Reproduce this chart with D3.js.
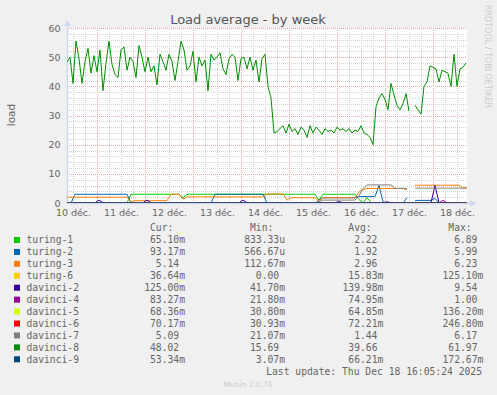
<!DOCTYPE html>
<html>
<head>
<meta charset="utf-8">
<script src="https://cdn.jsdelivr.net/npm/d3@7"></script>
<style>
  body { margin: 0; background: #f0f0f0; }
  svg { display: block; font-family: "DejaVu Sans", sans-serif; }
</style>
</head>
<body>
<svg id="chart" width="497" height="395"></svg>
<script>
'use strict';

// --- data ---------------------------------------------------------------
const seriesNames = ['turing-1', 'turing-2', 'turing-3', 'turing-6', 'davinci-2', 'davinci-4',
  'davinci-5', 'davinci-6', 'davinci-7', 'davinci-8', 'davinci-9'];
const seriesColors = ['#00cc00', '#0066b3', '#ff8000', '#ffcc00', '#330099', '#990099',
  '#ccff00', '#ff0000', '#808080', '#008f00', '#00487d'];
// sample spacing of each series, in hours
const seriesStepHours = [2, 2, 2, 8, 2, 2, 8, 8, 2, 1.5, 8];

const legendCur = ['65.10m', '93.17m', '5.14', '36.64m', '125.00m', '83.27m', '68.36m', '70.17m', '5.09', '48.02', '53.34m'];
const legendMin = ['833.33u', '566.67u', '112.67m', '0.00', '41.70m', '21.80m', '30.80m', '30.93m', '21.07m', '15.69', '3.07m'];
const legendAvg = ['2.22', '1.92', '2.96', '15.83m', '139.98m', '74.95m', '64.85m', '72.21m', '1.44', '39.66', '66.21m'];
const legendMax = ['6.89', '5.99', '6.23', '125.10m', '9.54', '1.00', '136.20m', '246.80m', '6.17', '61.97', '172.67m'];

const xTickLabels = ['10 déc.', '11 déc.', '12 déc.', '13 déc.', '14 déc.', '15 déc.', '16 déc.', '17 déc.', '18 déc.'];
const yTicks = [0, 10, 20, 30, 40, 50, 60];

const turing1 = [
  0, 0, 0, 0, 0, 0, 0, 0, 0, 0, 0, 0, 0, 0, 0, 0,
  3, 3, 3, 3, 3, 3, 3, 3, 3, 3, 3, 3, 3,
  1.8,
  3, 3, 3, 3, 3, 3, 3, 3, 3, 3, 3,
  3, 3, 3, 3, 3, 3, 3, 3, 3, 3, 3,
  3, 3, 3, 3, 3, 3, 3, 3, 3, 3, 3,
  1.0,
  3, 3, 3, 3, 3, 3, 3, 3, 3,
  1.2, 0.1, 1.8, 0.2,
  0, 0, 0, 0, 0, 0, 0, 0, 0,
  null,
  0, 0, 0, 0, 0, 0, 0, 0, 0, 0, 0, 0, 0, 0
];
const turing2 = [
  0, 0,
  3, 3, 3, 3, 3, 3, 3, 3, 3, 3, 3, 3, 3, 3,
  0, 0, 0, 0, 0, 0, 0, 0, 0, 0, 0, 0, 0, 0, 0, 0, 0, 0, 0, 0, 0,
  3, 3, 3, 3, 3, 3, 3, 3, 3, 3, 3, 3, 3,
  0, 0, 0, 0, 0, 0, 0, 0, 0, 0, 0, 0, 0,
  1.0,
  1.8, 1.8, 1.8, 1.8, 1.8, 1.8, 1.8, 1.8, 1.8,
  2.2, 2.2, 2.2, 2.2, 2.2,
  6.0, 0.4,
  0, 0, 0, 0, 0,
  1.8,
  null,
  0.9, 0.9, 0.9, 0.9, 0.9,
  1.6,
  0, 0, 0, 0, 0, 0, 0, 0
];
const turing3 = [
  2, 2, 2, 2, 2, 2, 2, 2, 2, 2, 2, 2, 2, 2, 2, 2,
  0.4,
  0.8, 0.8, 0.8, 0.8, 0.8, 0.8, 0.8, 0.8, 0.8,
  3, 3, 3,
  1.3,
  2.1, 2.1, 2.1, 2.1, 2.1, 2.1, 2.1, 2.1, 2.1, 2.1,
  2.1, 2.1, 2.1, 2.1, 2.1, 2.1, 2.1, 2.1, 2.1, 2.1,
  3.1, 3.1, 3.1, 3.1, 3.1,
  1.0,
  1.8, 1.8, 1.8, 1.8, 1.8, 1.8, 1.8,
  0.6,
  1.8, 1.8, 1.8, 1.8, 1.8, 1.8, 1.8, 1.8, 1.8,
  3.8, 4.6,
  5, 5, 5, 5, 5, 5, 5, 5, 5, 5,
  4.5,
  null,
  6.1, 6.1, 6.1, 6.1, 6.1, 6.1, 6.1, 6.1, 6.1, 6.1, 6.1, 6.1,
  5.2, 5.1
];
const turing6 = [0.01, 0.02, 0.01, 0.03, 0.01, 0.02, 0.01, 0.02, 0.01, 0.01, 0.02, 0.03, 0.01,
  0.02, 0.01, 0.02, 0.01, 0.02, 0.01, 0.02, 0.01, 0.02, 0.03, 0.02, 0.04, 0.04];
const davinci2 = [
  0.1, 0.1, 0.1, 0.1, 0.1, 0.1, 0.1, 0.1,
  1.0,
  0.1, 0.1, 0.1, 0.1, 0.1, 0.1, 0.1, 0.1, 0.1, 0.1, 0.1,
  1.0,
  0.1, 0.1, 0.1, 0.1, 0.1, 0.1, 0.1, 0.1, 0.1, 0.1, 0.1, 0.1,
  0.1, 0.1, 0.1, 0.1, 0.1, 0.1, 0.1, 0.1, 0.1, 0.1, 0.1,
  1.0,
  0.1, 0.1, 0.1, 0.1, 0.1, 0.1, 0.1, 0.1, 0.1, 0.1, 0.1, 0.1,
  0.1, 0.1, 0.1, 0.1, 0.1, 0.1, 0.1, 0.1, 0.1, 0.1, 0.1,
  0.5,
  0.1, 0.1, 0.1, 0.1, 0.1, 0.1, 0.1, 0.1, 0.1, 0.1, 0.1,
  0.4,
  0.1, 0.1, 0.1, 0.1, 0.1,
  null,
  0.1, 0.1, 0.1, 0.1, 0.1,
  6.0,
  0.1, 0.1, 0.1, 0.1, 0.1, 0.1, 0.1, 0.1
];
const davinci4 = [
  0.07, 0.07, 0.07, 0.07, 0.07, 0.07, 0.07, 0.07, 0.07, 0.07,
  0.07, 0.07, 0.07, 0.07, 0.07, 0.07, 0.07, 0.07, 0.07, 0.07,
  0.07, 0.07, 0.07, 0.07, 0.07, 0.07, 0.07, 0.07, 0.07, 0.07,
  0.07, 0.07, 0.07, 0.07, 0.07, 0.07, 0.07, 0.07, 0.07, 0.07,
  0.07, 0.07, 0.07, 0.07, 0.07, 0.07, 0.07, 0.07, 0.07, 0.07,
  0.07, 0.07, 0.07, 0.07, 0.07, 0.07, 0.07, 0.07, 0.07, 0.07,
  0.07, 0.07, 0.07, 0.07, 0.07, 0.07, 0.07, 0.07, 0.07, 0.07,
  0.07, 0.07, 0.07, 0.07, 0.07, 0.07, 0.07, 0.07, 0.07, 0.07,
  0.07, 0.07, 0.07, 0.07, 0.07, 0.07,
  null,
  0.07, 0.07, 0.07, 0.07, 0.07, 0.07, 0.07,
  0.9,
  0.07, 0.07, 0.07, 0.07, 0.07, 0.07
];
const davinci5 = [0.06, 0.07, 0.06, 0.05, 0.07, 0.06, 0.06, 0.07, 0.06, 0.05, 0.06, 0.07, 0.06,
  0.06, 0.07, 0.06, 0.05, 0.06, 0.07, 0.06, 0.07, 0.06, 0.07, 0.06, 0.07, 0.07];
const davinci6 = [0.07, 0.08, 0.07, 0.07, 0.06, 0.08, 0.07, 0.07, 0.08, 0.07, 0.06, 0.07, 0.08,
  0.07, 0.07, 0.08, 0.07, 0.06, 0.07, 0.08, 0.07, 0.07, 0.08, 0.07, 0.07, 0.07];
const davinci7 = [
  0, 0, 0, 0, 0, 0, 0, 0, 0, 0, 0, 0, 0, 0, 0, 0, 0, 0, 0, 0, 0,
  0, 0, 0, 0, 0, 0, 0, 0, 0, 0, 0, 0, 0, 0, 0, 0, 0, 0, 0, 0, 0,
  0, 0, 0, 0, 0, 0, 0, 0, 0, 0, 0, 0, 0, 0, 0, 0, 0, 0, 0, 0, 0,
  0.4,
  1, 1, 1, 1, 1, 1, 1, 1, 1,
  2.5, 5.0,
  6.2, 6.2, 6.2, 6.2, 6.2, 6.2, 6.2,
  5, 5, 5, 5,
  null,
  5.1, 5.1, 5.1, 5.1, 5.1, 5.1, 5.1, 5.1, 5.1, 5.1, 5.1, 5.1, 5.1, 5.1
];
const davinci8 = [
  48.3, 50, 41, 55.5, 49.5, 41, 48.5, 53, 44.5, 50.5, 45, 52.5, 38.5, 48, 55.5, 47.5, 44, 43,
  52.5, 53.5, 45.5, 50, 48.5, 43, 54, 50, 45, 50, 45, 47, 40.5, 51, 48.5, 45.5, 51,
  48.5, 42, 48.5, 55.5, 52.5, 45.5, 47, 52, 41.5, 50, 47, 49, 38.5, 51, 49, 50, 51.5, 46,
  44, 49.5, 51, 50, 42, 49.5, 50, 46, 50, 45.5, 49, 41.5, 49.5, 51, 40, 36, 24, 24.5,
  25.5, 26.5, 24, 27, 24.5, 25.5, 23.5, 26, 25, 22.5, 26.5, 24, 26, 25, 23.5, 25.5, 24.5, 25,
  24, 26, 25, 25.5, 24.5, 25.5, 24, 25, 24.5, 26.5, 24, 23.5, 22.5, 20, 33, 36, 37.5, 35.5,
  32, 41, 37, 33.5, 32, 34, 37.5, 31.5, null, 33.5, 32, 30.5, 40, 41.5, 47, 46.5, 46, 41.5,
  45.5, 45, 44.5, 40, 51, 40, 46, 46.5, 48
];
const davinci9 = [0.06, 0.07, 0.06, 0.07, 0.06, 0.06, 0.07, 0.06, 0.07, 0.06, 0.07, 0.06, 0.06,
  0.07, 0.06, 0.07, 0.06, 0.07, 0.06, 0.06, 0.07, 0.06, 0.07, 0.06, 0.05, 0.05];

const seriesValues = [turing1, turing2, turing3, turing6, davinci2, davinci4,
  davinci5, davinci6, davinci7, davinci8, davinci9];

// 400 px at 30 min per px
const startTime = new Date(Date.UTC(2025, 11, 10, 9, 0));
const endTime = new Date(Date.UTC(2025, 11, 18, 17, 0));

// --- chart ---------------------------------------------------------------
const svg = d3.select('#chart');
const plot = { left: 67, right: 467, top: 28, bottom: 203 };
const fontColor = '#666';

const x = d3.scaleUtc().domain([startTime, endTime]).range([plot.left, plot.right]);
const y = d3.scaleLinear().domain([0, 60]).range([plot.bottom, plot.top]);

svg.append('rect').attr('width', 497).attr('height', 395).attr('fill', '#f0f0f0');
svg.append('rect')
  .attr('x', plot.left).attr('y', plot.top)
  .attr('width', plot.right - plot.left).attr('height', plot.bottom - plot.top)
  .attr('fill', '#fff');

svg.append('defs').append('clipPath').attr('id', 'plotClip')
  .append('rect')
  .attr('x', plot.left).attr('y', plot.top - 2)
  .attr('width', plot.right - plot.left).attr('height', plot.bottom - plot.top + 2);

// grid
const grid = svg.append('g').attr('shape-rendering', 'crispEdges');
const minorY = d3.range(0, 61, 2).filter(v => v % 10 !== 0);
const minorX = d3.utcHour.every(6).range(startTime, endTime).filter(d => d.getUTCHours() !== 0);
const majorX = d3.utcDay.range(startTime, endTime);

grid.selectAll('.minor-h').data(minorY).join('line')
  .attr('x1', plot.left).attr('x2', plot.right)
  .attr('y1', d => Math.round(y(d)) + 0.5).attr('y2', d => Math.round(y(d)) + 0.5)
  .attr('stroke', '#d2d2d2').attr('stroke-dasharray', '1,1');
grid.selectAll('.minor-v').data(minorX).join('line')
  .attr('x1', d => Math.round(x(d)) + 0.5).attr('x2', d => Math.round(x(d)) + 0.5)
  .attr('y1', plot.top).attr('y2', plot.bottom)
  .attr('stroke', '#d2d2d2').attr('stroke-dasharray', '1,1');
grid.selectAll('.major-h').data(yTicks.filter(v => v > 0)).join('line')
  .attr('x1', plot.left).attr('x2', plot.right)
  .attr('y1', d => Math.round(y(d)) + 0.5).attr('y2', d => Math.round(y(d)) + 0.5)
  .attr('stroke', '#eaa8a8').attr('stroke-dasharray', '1,1');
grid.selectAll('.major-v').data(majorX).join('line')
  .attr('x1', d => Math.round(x(d)) + 0.5).attr('x2', d => Math.round(x(d)) + 0.5)
  .attr('y1', plot.top).attr('y2', plot.bottom)
  .attr('stroke', '#eaa8a8').attr('stroke-dasharray', '1,1');

// axes lines + arrows
const axisColor = '#cfd6f8';
svg.append('line').attr('x1', plot.left + 0.5).attr('x2', plot.left + 0.5)
  .attr('y1', plot.bottom).attr('y2', plot.top - 4).attr('stroke', axisColor).attr('stroke-width', 1.5);
svg.append('line').attr('x1', plot.left).attr('x2', plot.right + 4)
  .attr('y1', plot.bottom + 0.5).attr('y2', plot.bottom + 0.5).attr('stroke', axisColor).attr('stroke-width', 1.5);
svg.append('path')
  .attr('d', `M${plot.left - 3},${plot.top - 2}L${plot.left + 0.5},${plot.top - 8}L${plot.left + 4},${plot.top - 2}Z`)
  .attr('fill', axisColor);
svg.append('path')
  .attr('d', `M${plot.right + 3},${plot.bottom - 3}L${plot.right + 9},${plot.bottom + 0.5}L${plot.right + 3},${plot.bottom + 4}Z`)
  .attr('fill', axisColor);

// series
const line = d3.line()
  .defined(d => d.v != null)
  .x(d => x(d.t))
  .y(d => y(d.v));

const lines = svg.append('g').attr('clip-path', 'url(#plotClip)');
seriesValues.forEach((values, k) => {
  const stepMs = seriesStepHours[k] * 3600 * 1000;
  const pts = values.map((v, i) => ({ t: new Date(+startTime + i * stepMs), v }));
  lines.append('path')
    .datum(pts)
    .attr('d', line)
    .attr('fill', 'none')
    .attr('stroke', seriesColors[k])
    .attr('stroke-width', 1)
    .attr('stroke-linejoin', 'round');
});

// tick labels, centred on noon of each day
const xTickValues = majorX.map(d => new Date(+d - 12 * 3600 * 1000))
  .concat([new Date(+majorX[majorX.length - 1] + 12 * 3600 * 1000)])
  .slice(0, xTickLabels.length);

const xAxis = svg.append('g')
  .attr('transform', `translate(0,${plot.bottom})`)
  .call(d3.axisBottom(x).tickValues(xTickValues).tickSize(0).tickPadding(6.5)
    .tickFormat((d, i) => xTickLabels[i]));
const yAxis = svg.append('g')
  .attr('transform', `translate(${plot.left},0)`)
  .call(d3.axisLeft(y).tickValues(yTicks).tickSize(0).tickPadding(6.5).tickFormat(d3.format('d')));
[xAxis, yAxis].forEach(g => {
  g.select('.domain').remove();
  g.selectAll('text').attr('fill', fontColor).attr('font-size', '9.5px')
    .attr('font-family', '"DejaVu Sans", sans-serif');
});

// titles
svg.append('text')
  .attr('x', 248).attr('y', 24)
  .attr('text-anchor', 'middle')
  .attr('font-size', '13px')
  .attr('fill', '#555')
  .text('Load average - by week');

svg.append('text')
  .attr('transform', 'translate(15,115) rotate(-90)')
  .attr('text-anchor', 'middle')
  .attr('font-size', '10.5px')
  .attr('fill', fontColor)
  .text('load');

svg.append('text')
  .attr('transform', 'translate(485,5) rotate(90)')
  .attr('font-size', '8px')
  .attr('fill', '#cccccc')
  .text('RRDTOOL / TOBI OETIKER');

// legend
const legend = svg.append('g')
  .attr('font-family', '"DejaVu Sans Mono", monospace')
  .attr('font-size', '9.7px')
  .attr('fill', fontColor);
const rowY = i => 240 + i * 11.93;
const colRight = [185, 285, 383.3, 483.3];
const colHeads = ['Cur:', 'Min:', 'Avg:', 'Max:'];
const nb = '\u00a0';
// values without a unit suffix keep a blank in its place
const pad = s => (/[0-9]$/.test(s) ? s + nb : s);

colHeads.forEach((h, c) => {
  legend.append('text')
    .attr('x', colRight[c]).attr('y', 230.7)
    .attr('text-anchor', 'end')
    .text(h + nb + nb);
});

seriesNames.forEach((name, i) => {
  legend.append('rect')
    .attr('x', 14).attr('y', rowY(i) - 3)
    .attr('width', 6).attr('height', 6)
    .attr('fill', seriesColors[i]);
  legend.append('text')
    .attr('x', 26.5).attr('y', rowY(i) + 3.4)
    .text(name);
  [legendCur, legendMin, legendAvg, legendMax].forEach((col, c) => {
    legend.append('text')
      .attr('x', colRight[c]).attr('y', rowY(i) + 3.4)
      .attr('text-anchor', 'end')
      .text(pad(col[i]));
  });
});

legend.append('text')
  .attr('x', 482).attr('y', 375.2)
  .attr('text-anchor', 'end')
  .text('Last update: Thu Dec 18 16:05:24 2025');

svg.append('text')
  .attr('x', 248).attr('y', 387)
  .attr('text-anchor', 'middle')
  .attr('font-size', '7.5px')
  .attr('fill', '#cccccc')
  .text('Munin 2.0.76');
</script>
</body>
</html>
